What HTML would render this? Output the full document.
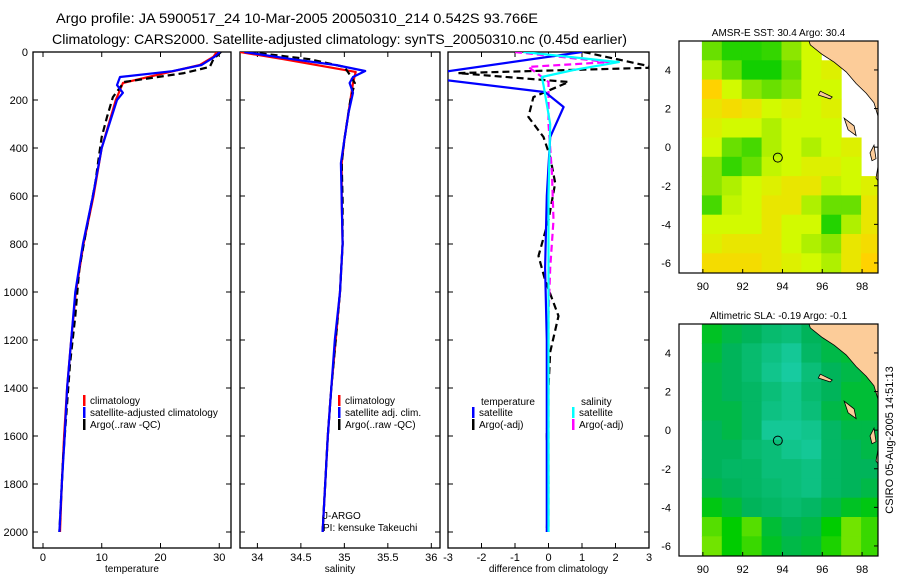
<!DOCTYPE html>
<html><head><meta charset="utf-8"><style>
body{margin:0;background:#fff}
svg{display:block;font-family:"Liberation Sans",sans-serif}
</style></head><body>
<svg id="fig" width="900" height="580" viewBox="0 0 900 580">
<text x="56" y="23" font-size="14" textLength="482" lengthAdjust="spacingAndGlyphs">Argo profile: JA 5900517_24 10-Mar-2005 20050310_214 0.542S 93.766E</text>
<text x="52" y="44" font-size="14" textLength="575" lengthAdjust="spacingAndGlyphs">Climatology: CARS2000. Satellite-adjusted climatology: synTS_20050310.nc (0.45d earlier)</text>
<g id="panels"></g>
<g id="maps"></g>
<text x="0" y="0" font-size="11" transform="translate(893,440) rotate(-90)" text-anchor="middle">CSIRO 05-Aug-2005 14:51:13</text>
</svg>
<script>
// ---------- profile data ----------
const tClimDepth=[0,20,54,83,129,200,400,600,800,1000,1200,1400,1600,1800,2000];
const tClimVal=[29.6,29.0,26.7,21.6,13.6,12.4,10.0,8.6,6.9,5.6,4.8,4.1,3.6,3.2,2.9];
const tSatDepth=[0,20,54,80,104,138,170,200,400,600,800,1000,1200,1400,1600,1800,2000];
const tSatVal=[30.1,29.2,27.0,22.0,13.1,12.6,13.6,12.6,10.0,8.5,6.8,5.5,4.8,4.1,3.7,3.2,2.8];
const tArgoDepth=[0,30,62,88,125,188,271,354,438,546,700,900,1100,1300,1500,1700,1900,2000];
const tArgoVal=[30.3,29.0,28.4,24.0,13.8,11.9,10.9,10.0,9.5,8.9,7.7,6.2,5.5,4.6,4.0,3.4,3.0,2.8];
const sClimDepth=[0,30,83,129,200,367,463,617,800,1000,1200,1400,1600,1800,2000];
const sClimVal=[33.8,34.3,35.13,35.1,35.07,35.0,34.97,34.97,34.98,34.95,34.9,34.85,34.81,34.78,34.75];
const sSatDepth=[0,30,54,79,104,129,170,250,367,463,617,800,1000,1200,1400,1600,1800,2000];
const sSatVal=[33.85,34.4,34.9,35.24,35.1,35.06,35.1,35.05,35.0,34.96,34.97,34.98,34.95,34.89,34.85,34.81,34.78,34.75];
const sArgoDepth=[0,30,62,88,129,200,367,463,617,800,1000,1200,1400,1600,1800,2000];
const sArgoVal=[33.9,34.6,35.0,35.05,35.12,35.07,35.0,34.97,34.98,34.98,34.95,34.9,34.85,34.81,34.78,34.75];
const dTSatDepth=[0,90,110,167,229,354,600,900,1200,1500,1800,2000];
const dTSatVal=[1.0,-3.5,-3.5,-0.1,0.45,0.05,-0.05,-0.1,-0.05,-0.05,-0.05,-0.05];
const dTArgoDepth=[0,65,88,125,188,271,354,438,546,700,850,950,1100,1250,1400,1600,1800,2000];
const dTArgoVal=[1.05,3.2,-2.7,0.6,-0.45,-0.6,-0.15,0.05,0.2,0.0,-0.3,-0.1,0.3,0.05,0.0,-0.05,0.0,-0.05];
const dSSatDepth=[0,42,75,104,138,300,600,1000,1400,2000];
const dSSatVal=[-0.75,2.1,0.75,-0.2,-0.15,0.05,0.0,0.0,0.0,0.0];
const dSArgoDepth=[0,42,62,125,300,500,700,900,1100,1400,1700,2000];
const dSArgoVal=[-1.0,1.8,-0.6,0.0,0.0,0.1,0.15,0.05,0.0,0.0,0.0,0.0];
const depthTicks=[0,200,400,600,800,1000,1200,1400,1600,1800,2000];
const tTicks=[0,10,20,30];
const sTicks=[34,34.5,35,35.5,36];
const dTicks=[-3,-2,-1,0,1,2,3];
// ---------- map data (1-degree cells, rows lat 5..-6, cols lon 90..98) ----------
const sstRows=[
[0.3,0.1,0.1,0.15,0.4,0.6,null,null,null],
[0.5,0.3,0.05,0.05,0.3,0.6,0.65,null,null],
[0.8,0.6,0.4,0.3,0.4,0.6,0.6,null,null],
[0.7,0.75,0.7,0.6,0.65,0.6,0.65,null,null],
[0.65,0.6,0.6,0.5,0.6,0.6,0.6,null,null],
[0.6,0.3,0.2,0.5,0.6,0.5,0.6,0.65,null],
[0.4,0.15,0.3,0.55,0.6,0.65,0.65,0.6,null],
[0.4,0.5,0.6,0.65,0.7,0.7,0.55,0.6,0.65],
[0.2,0.55,0.6,0.7,0.7,0.5,0.3,0.3,0.7],
[0.6,0.6,0.6,0.7,0.6,0.6,0.1,0.5,0.7],
[0.65,0.7,0.7,0.7,0.6,0.5,0.4,0.7,0.75],
[0.75,0.75,0.75,0.7,0.65,0.6,0.5,0.7,0.8]];
const slaRows=[
[0.4,0.5,0.55,0.65,0.7,0.55,0.5,0.45,0.4],
[0.45,0.55,0.65,0.75,0.85,0.6,0.5,0.45,0.4],
[0.5,0.55,0.65,0.8,0.9,0.7,0.55,0.5,0.45],
[0.5,0.55,0.6,0.7,0.8,0.65,0.55,0.45,0.45],
[0.5,0.5,0.6,0.75,0.8,0.7,0.5,0.45,0.45],
[0.55,0.5,0.6,0.85,0.85,0.8,0.6,0.5,0.5],
[0.55,0.55,0.65,0.7,0.8,0.85,0.6,0.55,0.5],
[0.55,0.6,0.6,0.7,0.7,0.75,0.6,0.55,0.55],
[0.5,0.55,0.6,0.65,0.7,0.75,0.6,0.55,0.5],
[0.35,0.45,0.55,0.6,0.65,0.6,0.5,0.4,0.35],
[0.15,0.3,0.15,0.45,0.55,0.5,0.3,0.1,0.2],
[0.1,0.3,0.2,0.4,0.5,0.45,0.25,0.1,0.2]];
const mapLatTicks=[4,2,0,-2,-4,-6];
const mapLonTicks=[90,92,94,96,98];
const argoLon=93.766, argoLat=-0.542;

const NS='http://www.w3.org/2000/svg';
function mk(tag,attrs,parent){const e=document.createElementNS(NS,tag);for(const k in attrs)e.setAttribute(k,attrs[k]);parent.appendChild(e);return e;}
const panels=document.getElementById('panels');
const TOP=52,BOT=548;
const yD=d=>TOP+d*0.24;

function panel(name,x0,x1,vmin,vmax,ticks,fmt,label){
  const g=mk('g',{},panels);
  
  
  const sx=v=>x0+(v-vmin)/(vmax-vmin)*(x1-x0);
  mk('defs',{},g).innerHTML=`<clipPath id="c-${name}"><rect x="${x0}" y="${TOP}" width="${x1-x0}" height="${BOT-TOP}"/></clipPath>`;
  const frame=mk('rect',{x:x0,y:TOP,width:x1-x0,height:BOT-TOP,fill:'none',stroke:'#000','stroke-width':1.3},g);
  
  
  ticks.forEach(t=>{const x=sx(t);
    mk('line',{x1:x,x2:x,y1:BOT,y2:BOT-5,stroke:'#000'},g);
    mk('line',{x1:x,x2:x,y1:TOP,y2:TOP+5,stroke:'#000'},g);
    const tl=mk('text',{x:x,y:BOT+13,'font-size':11,'text-anchor':'middle'},g);tl.textContent=fmt(t);
    
    
  });
  depthTicks.forEach(d=>{const y=yD(d);
    mk('line',{x1:x0,x2:x0+5,y1:y,y2:y,stroke:'#000'},g);
    mk('line',{x1:x1,x2:x1-5,y1:y,y2:y,stroke:'#000'},g);
  });
  const lab=mk('text',{x:(x0+x1)/2,y:572,'font-size':10,'text-anchor':'middle'},g);lab.textContent=label;
  
  
  const lines=mk('g',{'clip-path':`url(#c-${name})`},g);
  return {sx,lines,g};
}
function series(p,depths,vals,color,dash,nm){
  const pts=depths.map((d,i)=>p.sx(vals[i]).toFixed(1)+','+yD(d).toFixed(1)).join(' ');
  const a={points:pts,fill:'none',stroke:color,'stroke-width':2.2,'stroke-linejoin':'round'};
  if(dash)a['stroke-dasharray']='7,4';
  const l=mk('polyline',a,p.lines);
  
  
}
function legend(g,x,y,color,text,nm){
  if(color)mk('rect',{x:x,y:y-9,width:2.5,height:11,fill:color},g);
  const t=mk('text',{x:x+7,y:y,'font-size':10},g);t.textContent=text;
  
  
}
depthTicks.forEach(d=>{const t=mk('text',{x:28,y:yD(d)+4,'font-size':11,'text-anchor':'end'},panels);t.textContent=d;
  
  });

const pT=panel('temperature-panel',33,231,-1.7,32.0,tTicks,v=>v,'temperature');
series(pT,tClimDepth,tClimVal,'#f00',false,'temp-climatology-line');
series(pT,tArgoDepth,tArgoVal,'#000',true,'temp-argo-line');
series(pT,tSatDepth,tSatVal,'#00f',false,'temp-satellite-line');
legend(pT.g,83,404,'#f00','climatology','legend-climatology');
legend(pT.g,83,416,'#00f','satellite-adjusted climatology','legend-satellite');
legend(pT.g,83,428,'#000','Argo(..raw -QC)','legend-argo');

const pS=panel('salinity-panel',240,440,33.8,36.1,sTicks,v=>v,'salinity');
series(pS,sClimDepth,sClimVal,'#f00',false,'sal-climatology-line');
series(pS,sArgoDepth,sArgoVal,'#000',true,'sal-argo-line');
series(pS,sSatDepth,sSatVal,'#00f',false,'sal-satellite-line');
legend(pS.g,338,404,'#f00','climatology','legend-sal-climatology');
legend(pS.g,338,416,'#00f','satellite adj. clim.','legend-sal-satellite');
legend(pS.g,338,428,'#000','Argo(..raw -QC)','legend-sal-argo');
legend(pS.g,316,519,null,'J-ARGO','float-program-label');
legend(pS.g,316,531,null,'PI: kensuke Takeuchi','pi-label');

const pD=panel('difference-panel',448,649,-3,3,dTicks,v=>v,'difference from climatology');
series(pD,dTArgoDepth,dTArgoVal,'#000',true,'diff-temp-argo-line');
series(pD,dSArgoDepth,dSArgoVal,'#f0f',true,'diff-sal-argo-line');
series(pD,dTSatDepth,dTSatVal,'#00f',false,'diff-temp-satellite-line');
series(pD,dSSatDepth,dSSatVal,'#0ff',false,'diff-sal-satellite-line');
legend(pD.g,474,405,null,'temperature','legend-temperature-heading');
legend(pD.g,472,416,'#00f','satellite','legend-temp-satellite');
legend(pD.g,472,428,'#000','Argo(-adj)','legend-temp-argo');
legend(pD.g,574,405,null,'salinity','legend-salinity-heading');
legend(pD.g,572,416,'#0ff','satellite','legend-sal-satellite-diff');
legend(pD.g,572,428,'#f0f','Argo(-adj)','legend-sal-argo-diff');

// ---------- maps ----------
const maps=document.getElementById('maps');
function lerpCol(stops,v){
  for(let i=1;i<stops.length;i++){if(v<=stops[i][0]||i==stops.length-1){
    const [a,ca]=stops[i-1],[b,cb]=stops[i];const t=Math.max(0,Math.min(1,(v-a)/(b-a)));
    return 'rgb('+ca.map((c,k)=>Math.round(c+(cb[k]-c)*t)).join(',')+')';}}
}
const sstStops=[[0,[0,204,0]],[0.4,[140,230,0]],[0.6,[210,250,0]],[0.8,[255,210,0]],[1,[255,170,0]]];
const slaStops=[[0,[170,240,0]],[0.3,[0,204,0]],[0.55,[0,180,90]],[1,[30,210,180]]];
function drawMap(name,top,rows,stops,title){
  const L=679,R=878,B=top+232;
  const sx=lon=>L+(lon-88.8)/10*(R-L);
  const sy=lat=>top+(5.5-lat)*19.3;
  const g=mk('g',{},maps);
  
  
  mk('defs',{},g).innerHTML=`<clipPath id="m-${name}"><rect x="${L}" y="${top}" width="${R-L}" height="${B-top}"/></clipPath>`;
  const cg=mk('g',{'clip-path':`url(#m-${name})`},g);
  rows.forEach((row,i)=>row.forEach((v,j)=>{
    if(v===null)return;
    const lat=5-i,lon=90+j;
    const c=mk('rect',{x:sx(lon-0.05),y:sy(lat+0.5),width:sx(1)-sx(0)+0.5,height:19.8,fill:lerpCol(stops,v)},cg);
    
    
  }));
  const P=pts=>pts.map(p=>sx(p[0]).toFixed(1)+','+sy(p[1]).toFixed(1)).join(' ');
  const land=mk('polygon',{points:P([[95.3,5.6],[95.4,5.3],[96,4.8],[96.6,4.4],[97.2,3.9],[97.7,3.3],[98.2,2.8],[98.6,2.3],[98.8,1.6],[99,1.4],[99,5.6]]),fill:'#fccc99',stroke:'#000','stroke-width':0.8},cg);
  
  
  [[[95.9,2.9],[96.5,2.6],[96.4,2.5],[95.8,2.7]],[[97.1,1.5],[97.6,1.1],[97.7,0.6],[97.3,0.9]],[[98.4,-0.3],[98.6,0.1],[98.7,-0.6],[98.5,-0.7]],[[98.8,-1.0],[98.7,-1.6],[99,-2.0],[99,-1.0]]].forEach(pp=>{
    const is=mk('polygon',{points:P(pp),fill:'#fccc99',stroke:'#000','stroke-width':0.8},cg);
    
    
  });
  const mkr=mk('circle',{cx:sx(argoLon),cy:sy(argoLat),r:4.5,fill:'none',stroke:'#000','stroke-width':1},g);
  
  
  mk('rect',{x:L,y:top,width:R-L,height:B-top,fill:'none',stroke:'#000','stroke-width':1.2},g);
  mapLatTicks.forEach(t=>{const y=sy(t);mk('line',{x1:R,x2:R-4,y1:y,y2:y,stroke:'#000'},g);
    const tl=mk('text',{x:L-8,y:y+4,'font-size':11,'text-anchor':'end'},g);tl.textContent=t;
    
    });
  mapLonTicks.forEach(t=>{const x=sx(t);mk('line',{x1:x,x2:x,y1:B,y2:B-4,stroke:'#000'},g);
    const tl=mk('text',{x:x,y:B+17,'font-size':11,'text-anchor':'middle'},g);tl.textContent=t;
    
    });
  const tt=mk('text',{x:(L+R)/2,y:top-5,'font-size':10,'text-anchor':'middle'},g);tt.textContent=title;
  
  
}
drawMap('sst-map',41,sstRows,sstStops,'AMSR-E SST: 30.4 Argo: 30.4');
drawMap('sla-map',324,slaRows,slaStops,'Altimetric SLA: -0.19 Argo: -0.1');
</script>
</body></html>
